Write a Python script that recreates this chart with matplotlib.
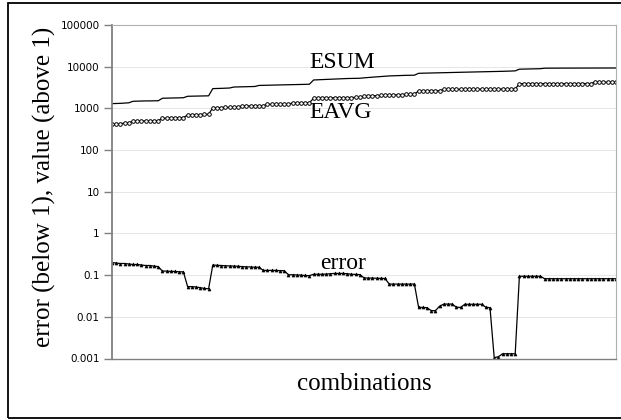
import matplotlib
matplotlib.use("Agg")
import matplotlib.pyplot as plt
from matplotlib.patches import Rectangle

# values, one per combination (121 combinations)
esum = [1300, 1310, 1320, 1340, 1360,
        1480, 1490, 1500, 1510, 1510, 1520, 1520,
        1750, 1760, 1770, 1780, 1790, 1800,
        1950, 1960, 1970, 1980, 1990, 2000,
        2980, 3000, 3020, 3050, 3080,
        3250, 3270, 3290, 3310, 3330, 3350,
        3550, 3570, 3590, 3610, 3630, 3650, 3670, 3690, 3710, 3730, 3750, 3770, 3800,
        4800, 4850, 4900, 4950, 5000, 5050, 5100, 5150, 5200, 5230, 5250, 5280,
        5400, 5500, 5600, 5700, 5800, 5900, 6000, 6050, 6100, 6150, 6200, 6220, 6250,
        6940, 6980, 7020, 7060, 7100, 7140, 7180, 7220, 7260, 7300, 7340, 7380,
        7420, 7460, 7500, 7540, 7580, 7620, 7660, 7700, 7740, 7800, 7860, 7940,
        8700, 8750, 8800, 8850, 8900, 8950,
        9200, 9210, 9220, 9230, 9240, 9250, 9250, 9260, 9260, 9270, 9270, 9280,
        9280, 9290, 9290, 9300, 9300, 9300]

eavg = [415, 420, 430, 440, 450,
        490, 495, 498, 500, 500, 505, 505,
        577, 580, 585, 590, 595, 600,
        693, 700, 705, 710, 715, 720,
        1040, 1040, 1045, 1050, 1050, 1055, 1060,
        1140, 1140, 1145, 1145, 1150, 1150,
        1250, 1250, 1255, 1255, 1260, 1260,
        1350, 1350, 1355, 1355, 1360,
        1750, 1760, 1770, 1780, 1790, 1800, 1805, 1810, 1815, 1820, 1830, 1840,
        1950, 1980, 2000, 2020, 2040, 2060, 2080, 2100, 2120, 2140, 2160, 2180, 2190,
        2620, 2630, 2640, 2650, 2660, 2670,
        2850, 2850, 2860, 2860, 2860, 2870, 2870, 2870, 2870, 2880, 2880, 2880,
        2880, 2890, 2890, 2890, 2900, 2900,
        3930, 3930, 3930, 3930, 3930, 3930, 3930, 3930, 3930, 3930, 3930, 3930,
        3930, 3930, 3930, 3940, 3940, 3940,
        4240, 4240, 4240, 4240, 4240, 4240]

error = [0.20, 0.195, 0.19, 0.19, 0.185, 0.18, 0.18, 0.175, 0.17, 0.17, 0.165, 0.16,
         0.125, 0.125, 0.123, 0.123, 0.12, 0.12,
         0.053, 0.053, 0.052, 0.050, 0.048, 0.047,
         0.175, 0.172, 0.17, 0.168, 0.166, 0.165, 0.163, 0.16, 0.158, 0.157, 0.155, 0.155,
         0.13, 0.13, 0.13, 0.13, 0.128, 0.128,
         0.102, 0.102, 0.101, 0.10, 0.098, 0.097,
         0.105, 0.105, 0.105, 0.106, 0.108, 0.11, 0.11, 0.11, 0.108, 0.105, 0.104, 0.103,
         0.086, 0.085, 0.085, 0.084, 0.084, 0.083,
         0.061, 0.061, 0.061, 0.061, 0.061, 0.061, 0.061,
         0.0168, 0.0168, 0.0165, 0.0141, 0.014, 0.018,
         0.0202, 0.0202, 0.0202, 0.017, 0.0168,
         0.020, 0.020, 0.020, 0.020, 0.020, 0.017, 0.0165,
         0.00105, 0.0011, 0.0013, 0.0013, 0.0013, 0.0013,
         0.094, 0.094, 0.094, 0.094, 0.094, 0.094,
         0.082, 0.082, 0.082, 0.082, 0.082, 0.082, 0.082, 0.082, 0.082,
         0.082, 0.082, 0.082, 0.082, 0.082, 0.082, 0.082, 0.082, 0.082]

x = list(range(len(esum)))
yticks = [0.001, 0.01, 0.1, 1, 10, 100, 1000, 10000, 100000]
ytick_labels = ["0.001", "0.01", "0.1", "1", "10", "100", "1000", "10000", "100000"]

fig = plt.figure(figsize=(6.21, 4.2), dpi=100)
ax = fig.add_axes([112 / 621, 1 - 358.5 / 420, 504 / 621, 333.5 / 420])

ax.plot(x, esum, color="black", lw=0.9)
ax.plot(x, eavg, color="black", lw=0.9, marker="o", ms=2.6,
        mfc="white", mec="black", mew=0.7)
ax.plot(x, error, color="black", lw=0.9, marker="^", ms=2.2,
        mfc="black", mec="black", mew=0.4)

ax.set_yscale("log")
ax.set_ylim(0.001, 100000)
ax.set_xlim(0, len(x) - 1)
ax.set_yticks(yticks)
ax.set_yticklabels(ytick_labels, fontsize=7.5, family="DejaVu Sans")
ax.minorticks_off()
ax.set_xticks([])
ax.tick_params(axis="y", direction="out", length=6, width=1, color="#808080", pad=3)
ax.grid(axis="y", color="#e6e6e6", lw=0.7)

for side in ["top", "right"]:
    ax.spines[side].set_color("#b0b0b0")
    ax.spines[side].set_linewidth(0.8)
ax.spines["left"].set_color("#808080")
ax.spines["left"].set_linewidth(1.3)
ax.spines["bottom"].set_color("#808080")
ax.spines["bottom"].set_linewidth(1.0)

serif = "Liberation Serif"
ax.text(47, 12500, "ESUM", fontsize=17, family=serif, ha="left", va="center")
ax.text(47, 800, "EAVG", fontsize=17, family=serif, ha="left", va="center")
ax.text(49.5, 0.19, "error", fontsize=17, family=serif, ha="left", va="center")

fig.text(44 / 621, 1 - 187 / 420, "error (below 1), value (above 1)",
         fontsize=18, family=serif, rotation=90, ha="center", va="center")
fig.text(364 / 621, 1 - 384 / 420, "combinations",
         fontsize=18, family=serif, ha="center", va="center")

fig.patches.append(Rectangle((8 / 621, 2 / 420), 1.0, 415 / 420,
                             transform=fig.transFigure, fill=False,
                             edgecolor="black", lw=1.3, clip_on=False))

fig.savefig("out.png", dpi=100)
